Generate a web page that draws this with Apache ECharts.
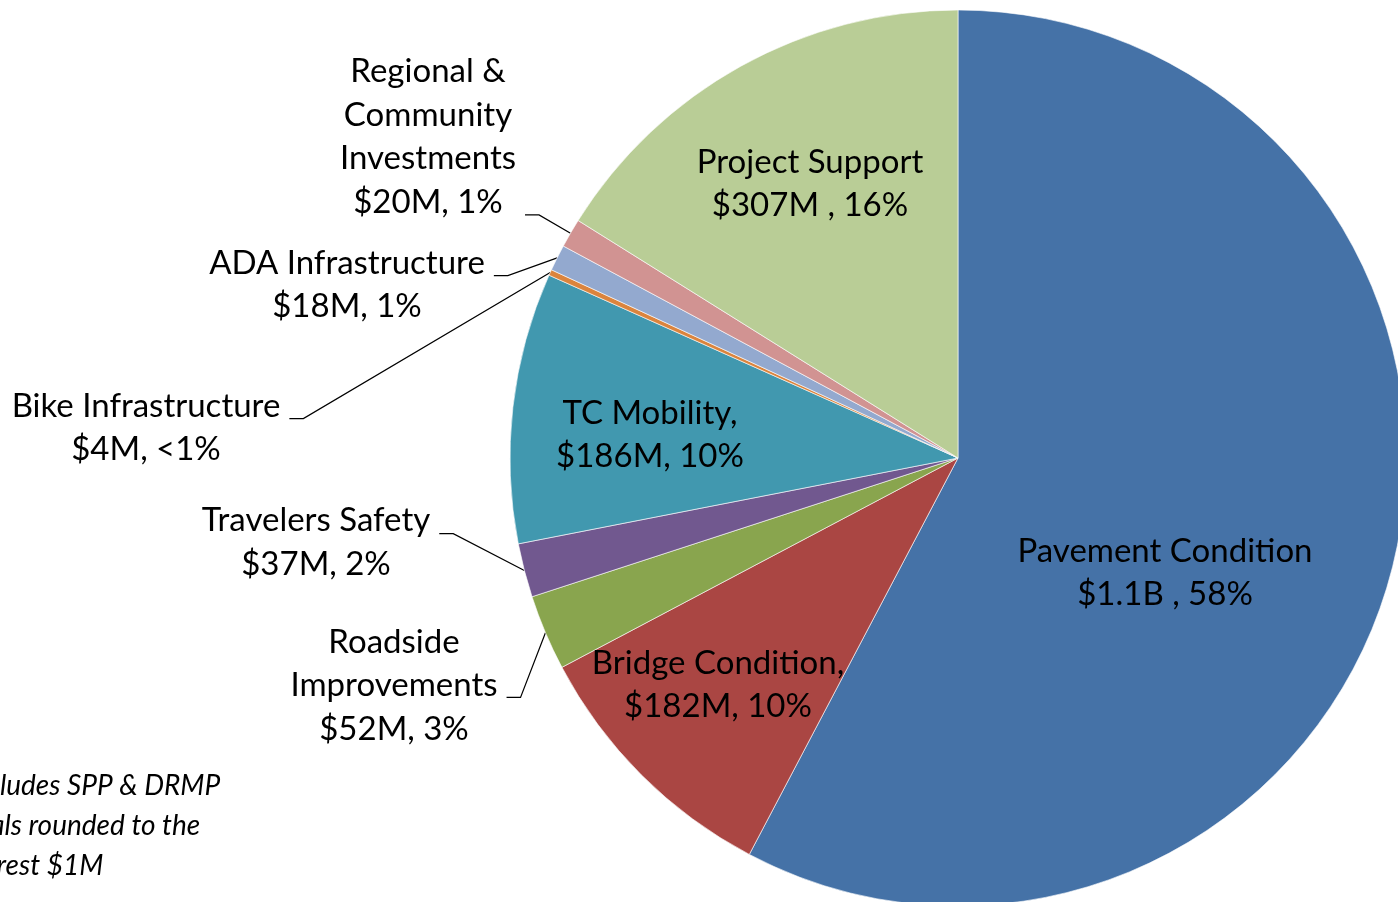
<!DOCTYPE html>
<html><head><meta charset="utf-8">
<script src="https://cdn.jsdelivr.net/npm/echarts@6/dist/echarts.min.js"></script>
<style>html,body{margin:0;padding:0;background:#fff;overflow:hidden}#c{width:1398px;height:902px}</style>
</head><body><div id="c"></div>
<script>
// ---- data ----
const categories = ['Pavement Condition', 'Bridge Condition', 'Roadside Improvements', 'Travelers Safety', 'TC Mobility', 'Bike Infrastructure', 'ADA Infrastructure', 'Regional & Community Investments', 'Project Support'];
const values = [1100, 182, 52, 37, 186, 4, 18, 20, 307];
const labelNames = ['Pavement Condition', 'Bridge Condition,', 'Roadside\nImprovements', 'Travelers Safety', 'TC Mobility,', 'Bike Infrastructure', 'ADA Infrastructure', 'Regional &\nCommunity\nInvestments', 'Project Support'];
const valueLabels = ['$1.1B , 58%', '$182M, 10%', '$52M, 3%', '$37M, 2%', '$186M, 10%', '$4M, <1%', '$18M, 1%', '$20M, 1%', '$307M , 16%'];
const colors = ['#4572A7', '#AA4643', '#89A54E', '#71588F', '#4198AF', '#DB843D', '#93A9CF', '#D19392', '#B9CD96'];
const footnote = '*Includes SPP & DRMP\nTotals rounded to the\nnearest $1M';

// ---- label layout (pixels): centre x, centre y of label box, spacer above/below text ----
const labelSpots = [
  {x: 1165, y: 573,   inside: true,  top: 0,  bottom: 0},
  {x: 718,  y: 685,   inside: true,  top: 0,  bottom: 0},
  {x: 394,  y: 703.5, inside: false, top: 0,  bottom: 36},
  {x: 316,  y: 530.5, inside: false, top: 24, bottom: 0},
  {x: 650,  y: 435,   inside: true,  top: 0,  bottom: 0},
  {x: 146,  y: 415,   inside: false, top: 26, bottom: 0},
  {x: 347,  y: 272,   inside: false, top: 26, bottom: 0},
  {x: 428,  y: 287,   inside: false, top: 0,  bottom: 300},
  {x: 810,  y: 184,   inside: true,  top: 0,  bottom: 0}
];

const rich = {
  a: {fontFamily: 'Lato', fontSize: 33, lineHeight: 43.5, color: '#000', padding: [0, 9, 0, 9]},
  b: {fontFamily: 'Lato', fontSize: 33, lineHeight: 43.5, color: '#000'}
};
labelSpots.forEach((s, i) => {
  if (s.top) rich['t' + i] = {fontSize: 1, lineHeight: s.top};
  if (s.bottom) rich['u' + i] = {fontSize: 1, lineHeight: s.bottom};
});

function labelText(p) {
  const i = p.dataIndex, s = labelSpots[i];
  const tok = s.inside ? 'b' : 'a';
  const lines = (labelNames[i] + '\n' + valueLabels[i]).split('\n').map(t => '{' + tok + '|' + t + '}');
  if (s.top) lines.unshift('{t' + i + '| }');
  if (s.bottom) lines.push('{u' + i + '| }');
  return lines.join('\n');
}

const chart = echarts.init(document.getElementById('c'), null, {renderer: 'canvas'});
const pieData = categories.map((c, i) => ({
  name: c,
  value: values[i],
  itemStyle: {color: colors[i]},
  label: {position: labelSpots[i].inside ? 'inside' : 'outside'},
  labelLine: {show: !labelSpots[i].inside}
}));

chart.setOption({
  animation: false,
  backgroundColor: '#ffffff',
  series: [{
    type: 'pie',
    center: [958, 458],
    radius: 448,
    startAngle: 90,
    clockwise: true,
    avoidLabelOverlap: false,
    emphasis: {disabled: true},
    itemStyle: {borderColor: '#ffffff', borderWidth: 0.6},
    label: {
      show: true,
      formatter: labelText,
      rich: rich,
      fontFamily: 'Lato',
      fontSize: 33,
      color: '#000',
      align: 'center',
      textBorderWidth: 0
    },
    labelLine: {length: 15, length2: 14, minTurnAngle: 0, lineStyle: {color: '#000', width: 1.2}},
    labelLayout: p => ({x: labelSpots[p.dataIndex].x, y: labelSpots[p.dataIndex].y, align: 'center', verticalAlign: 'middle'}),
    data: pieData
  }],
  graphic: [{
    type: 'text',
    x: -46,
    y: 766,
    style: {text: footnote, font: 'italic 28px Lato', lineHeight: 40, fill: '#000', verticalAlign: 'top', align: 'left'}
  }]
});
</script></body></html>
